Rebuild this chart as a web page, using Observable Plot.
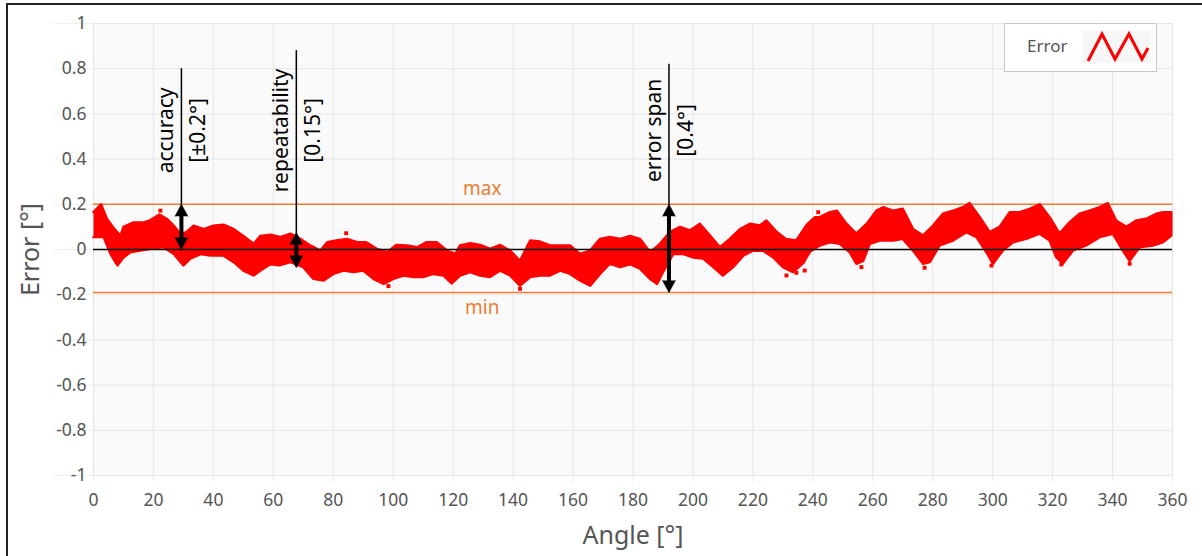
<!DOCTYPE html>
<html><head><meta charset="utf-8">
<script src="https://cdn.jsdelivr.net/npm/d3@7"></script>
<script src="https://cdn.jsdelivr.net/npm/@observablehq/plot@0.6"></script>
<style>
html,body{margin:0;padding:0;background:#fff;overflow:hidden;}
#wrap{position:relative;width:1202px;height:556px;}
#border{position:absolute;left:6px;top:3px;width:1200px;height:600px;border-top:2px solid #222;border-left:2px solid #222;pointer-events:none;}
#legend{position:absolute;left:1004px;top:23px;width:151px;height:47px;border:1px solid #c8c8c8;background:#fff;font-family:"Noto Sans",sans-serif;font-size:17px;color:#555;}
#legend span{position:absolute;left:22px;top:10px;}
#legend svg{position:absolute;left:77px;top:6px;}
</style></head>
<body><div id="wrap"><div id="chart"></div>
<div id="legend"><span>Error</span><svg width="70" height="34"><rect x="0" y="0" width="69" height="33" fill="#f7f7f7"/><polyline points="6,31 20,4 33,29 47,4 60,29 66,18" fill="none" stroke="#ff0000" stroke-width="3" stroke-linejoin="miter"/></svg></div>
<div id="border"></div></div>
<script>
// axis ticks
const xTicks = [0,20,40,60,80,100,120,140,160,180,200,220,240,260,280,300,320,340,360];
const yTicks = [-1,-0.8,-0.6,-0.4,-0.2,0,0.2,0.4,0.6,0.8,1];

// upper edge of error band (angle, error)
const upperAngles = [0,2.5,4.5,7,9,10,13.4,16.8,19,22,24.5,26.8,29,31,33.4,36.8,40,43.4,46.8,50,53.4,55.7,59,62.3,65.7,69,72.3,75.7,78,81,84.5,88,91,94.5,98,101,104.5,108,111,114.5,118,120.7,122.3,125.7,129,132.3,135.7,139,142.3,145.7,149,152.3,155.7,159,162.3,165.7,169,172.3,175.7,179,182.3,185.7,189,192.3,195.7,199,202.3,205.7,209,212.3,215.7,219,222.3,224.5,228,231,234.5,238,240.7,242.3,245.7,248,251.2,254.5,258,261.2,263.4,266.8,270,273.4,276.8,280.1,283.4,286.8,290.1,292.3,295.7,299,302.3,305.7,309,312.3,315.7,319,322.3,325.7,329,332.3,335.7,338.4,341.2,344.6,347.9,351.2,354.6,356.8,359.6];
const upperValues = [0.165,0.2,0.135,0.09,0.06,0.1,0.12,0.12,0.13,0.155,0.135,0.105,0.07,0.077,0.105,0.09,0.105,0.11,0.09,0.06,0.025,0.06,0.065,0.055,0.07,0.047,0.018,-0.005,0.032,0.04,0.047,0.032,0.032,0.003,-0.012,0.02,0.018,0.01,0.032,0.032,-0.005,-0.02,0.018,0.028,0.02,0.003,0.02,-0.005,-0.05,0.04,0.035,0.018,0.018,0.018,-0.02,-0.005,0.047,0.055,0.047,0.06,0.047,-0.012,0.025,0.077,0.1,0.084,0.114,0.062,0.01,0.047,0.09,0.114,0.106,0.128,0.077,0.047,0.04,0.11,0.143,0.143,0.165,0.172,0.114,0.07,0.114,0.172,0.187,0.172,0.18,0.091,0.062,0.106,0.158,0.172,0.187,0.205,0.143,0.077,0.1,0.165,0.165,0.18,0.2,0.143,0.07,0.121,0.158,0.172,0.187,0.205,0.128,0.1,0.128,0.136,0.158,0.165,0.165];

// lower edge of error band (angle, error)
const lowerAngles = [0,3.4,5.7,8,10,12.3,15.7,19,23.4,26.8,30,32.3,35.7,39,43.4,46.8,50,53.4,55.7,59,62,65.7,70,73.4,76.8,80,83.4,86.8,90,93.4,96.8,100,103.4,106.8,110,113.4,116.8,119.5,122.3,125.7,129,132.3,135.7,139,142.3,145.7,149,152.3,155.7,159,162.3,165.7,169,172.3,175.7,179,182.3,185.7,188,190,193.4,196.8,200,203.4,206.8,210,213.4,216.8,220,223.4,226.8,230,233.4,236.8,239,242.3,245.7,249,252.3,254.5,256.8,259,262.3,266.8,270,273.4,276.8,279,282.3,286.8,291.2,294.6,297.9,300.1,303.4,306.8,311.2,315.7,319,321.2,323.4,326.8,331.2,335.7,340.1,343.4,345.7,349,353.4,356.8,359.6];
const lowerValues = [0.055,0.055,-0.02,-0.07,-0.035,-0.012,-0.005,0.003,0.01,-0.02,-0.07,-0.04,-0.02,-0.027,-0.027,-0.056,-0.093,-0.115,-0.093,-0.065,-0.07,-0.056,-0.078,-0.13,-0.137,-0.108,-0.093,-0.1,-0.093,-0.13,-0.152,-0.13,-0.115,-0.122,-0.122,-0.108,-0.115,-0.15,-0.115,-0.1,-0.115,-0.122,-0.093,-0.115,-0.16,-0.122,-0.115,-0.115,-0.093,-0.108,-0.137,-0.16,-0.108,-0.063,-0.078,-0.065,-0.085,-0.13,-0.152,-0.1,-0.02,-0.02,-0.035,-0.04,-0.078,-0.115,-0.078,-0.027,-0.005,-0.005,-0.035,-0.078,-0.1,-0.06,-0.01,0.018,0.032,0.025,-0.012,-0.063,-0.05,0.025,0.04,0.04,0.047,-0.004,-0.063,-0.056,0.018,0.04,0.077,0.055,-0.012,-0.063,-0.004,0.032,0.047,0.07,0.04,-0.034,-0.063,-0.004,0.018,0.055,0.07,-0.004,-0.05,0.01,0.018,0.032,0.062];

// scattered outlier points
const outlierAngles = [22.3,84.3,98.4,142.3,231.2,234.5,237.3,241.8,256.2,277.3,299.6,322.9,345.7];
const outlierValues = [0.172,0.072,-0.162,-0.174,-0.115,-0.103,-0.093,0.165,-0.078,-0.081,-0.071,-0.066,-0.063];

// limits
const limitValues = [0.2, -0.19];
const limitNames = ["max", "min"];
const limitLabelAngle = 129.7;
const limitLabelValues = [0.27, -0.26];

// annotations
const annoNames = ["accuracy", "repeatability", "error span"];
const annoAmounts = ["[±0.2°]", "[0.15°]", "[0.4°]"];
const annoAngles = [29.33, 67.67, 192];
const annoTop = [0.8, 0.88, 0.82];
const arrowHigh = [0.2, 0.075, 0.2];
const arrowLow = [0, -0.08, -0.19];
const annoLabelValue = 0.527;

const band = [
  ...upperAngles.map((a, i) => ({a, v: upperValues[i]})),
  ...lowerAngles.map((a, i) => ({a, v: lowerValues[i]})).reverse()
];
const outliers = outlierAngles.map((a, i) => ({a, v: outlierValues[i]}));
const anno = annoNames.map((n, i) => ({n, amt: annoAmounts[i], a: annoAngles[i], top: annoTop[i], hi: arrowHigh[i], lo: arrowLow[i]}));
const limits = limitNames.map((n, i) => ({n, v: limitValues[i], lv: limitLabelValues[i]}));

const orange = "#ed7d31";
const chart = Plot.plot({
  width: 1202, height: 556,
  marginLeft: 93, marginRight: 30, marginTop: 23, marginBottom: 81,
  style: {fontFamily: "'Noto Sans', sans-serif", fontSize: "17px", color: "#555", background: "transparent"},
  x: {domain: [0, 360]},
  y: {domain: [-1, 1]},
  marks: [
    Plot.frame({fill: "#fafafa", stroke: null}),
    Plot.gridX(xTicks, {stroke: "#e6e6e6", strokeOpacity: 1}),
    Plot.gridY(yTicks, {stroke: "#e6e6e6", strokeOpacity: 1}),
    Plot.axisX(xTicks, {tickSize: 7, tickPadding: 11, stroke: "#ececec", fill: "#555", fontSize: 17.5, label: null, tickFormat: d => String(d)}),
    Plot.axisY(yTicks, {tickSize: 40, tickPadding: -33, stroke: "#f0f0f0", fill: "#555", fontSize: 17.5, label: null, tickFormat: d => String(d)}),
    Plot.text(["Error [°]"], {frameAnchor: "left", textAnchor: "middle", lineAnchor: "middle", dx: -63, rotate: -90, fontSize: 25, fill: "#555"}),
    Plot.text(["Angle [°]"], {frameAnchor: "bottom", textAnchor: "middle", lineAnchor: "middle", dy: 60, fontSize: 25, fill: "#555"}),
    Plot.ruleY(limits, {y: "v", stroke: orange, strokeWidth: 1.5}),
    Plot.text(limits, {x: () => limitLabelAngle, y: "lv", text: "n", fill: orange, fontSize: 19}),
    Plot.line(band, {x: "a", y: "v", fill: "#ff0000", stroke: "#ff0000", strokeWidth: 2.5, strokeLinejoin: "round"}),
    Plot.dot(outliers, {x: "a", y: "v", symbol: "square", r: 2.2, fill: "#ff0000", stroke: null}),
    Plot.ruleY([0], {stroke: "#000", strokeWidth: 1.5}),
    Plot.ruleX(anno, {x: "a", y1: "top", y2: "lo", stroke: "#000", strokeWidth: 1.5}),
    Plot.ruleX(anno, {x: "a", y1: "hi", y2: "lo", stroke: "#000", strokeWidth: 4, insetTop: 8, insetBottom: 8}),
    Plot.vector(anno, {x: "a", y: "hi", length: 12, rotate: 0, anchor: "end", shape: "spike", r: 6.5, fill: "#000", stroke: "#000", strokeWidth: 0.5}),
    Plot.vector(anno, {x: "a", y: "lo", length: 12, rotate: 180, anchor: "end", shape: "spike", r: 6.5, fill: "#000", stroke: "#000", strokeWidth: 0.5}),
    Plot.text(anno, {x: "a", y: () => annoLabelValue, text: "n", rotate: -90, dx: -15, fontSize: 21, fill: "#000"}),
    Plot.text(anno, {x: "a", y: () => annoLabelValue, text: "amt", rotate: -90, dx: 17, fontSize: 21, fill: "#000"})
  ]
});
document.getElementById("chart").appendChild(chart);
</script>
</body></html>
